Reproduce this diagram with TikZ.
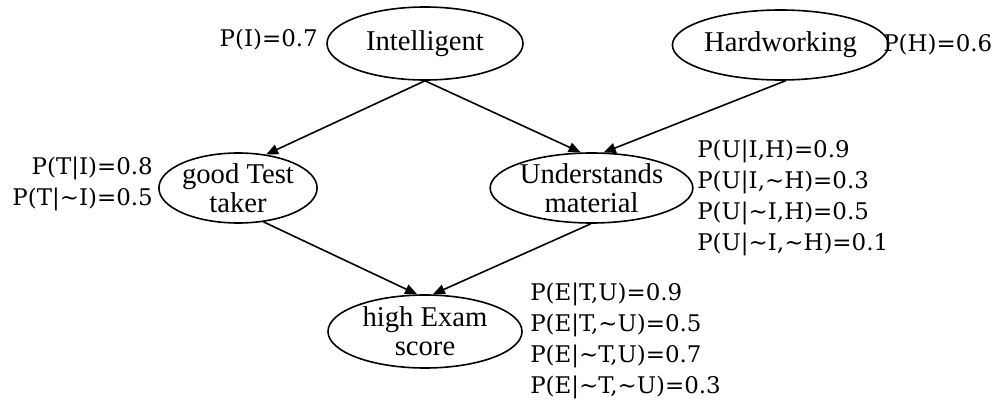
\documentclass[tikz,border=0pt]{standalone}
\usepackage{fontspec}
\setmainfont{Liberation Serif}
\newfontfamily\cptfont{DejaVu Serif}
\usetikzlibrary{shapes.geometric,arrows.meta}
\tikzset{
  bn/.style={draw, ellipse, line width=1.2pt, inner sep=0pt, align=center,
    font=\fontsize{21.5}{21.75}\selectfont},
  cpt/.style={inner sep=0pt, font=\cptfont\fontsize{17.2}{23.25}\selectfont},
  arr/.style={line width=1.2pt, -{Triangle[length=9pt,width=7.5pt]}}
}
\begin{document}
\begin{tikzpicture}[x=0.75pt,y=-0.75pt]
\useasboundingbox (0,0) rectangle (1002,406);
\node[bn, minimum width=147pt, minimum height=54.75pt] (int) at (425,43.5) {Intelligent};
\node[bn, minimum width=141.75pt, minimum height=52.5pt] (hard) at (780.5,45) {Hardworking};
\node[bn, minimum width=117pt, minimum height=52.5pt] (gt) at (238,188) {good Test\\taker};
\node[bn, minimum width=144.75pt, minimum height=52.5pt] (und) at (591.5,188) {Understands\\material};
\node[bn, minimum width=145.5pt, minimum height=54.75pt] (he) at (425,331.5) {high Exam\\score};
\node[cpt, anchor=east] (pI) at (318,40) {P(I)=0.7};
\node[cpt, anchor=west] (pH) at (883,45) {P(H)=0.6};
\node[cpt, anchor=east, align=right] (pT) at (153,184) {P(T|I)=0.8\\P(T|\textasciitilde I)=0.5};
\node[cpt, anchor=west, align=left] (pU) at (697,197.5) {P(U|I,H)=0.9\\P(U|I,\textasciitilde H)=0.3\\P(U|\textasciitilde I,H)=0.5\\P(U|\textasciitilde I,\textasciitilde H)=0.1};
\node[cpt, anchor=west, align=left] (pE) at (530,341) {P(E|T,U)=0.9\\P(E|T,\textasciitilde U)=0.5\\P(E|\textasciitilde T,U)=0.7\\P(E|\textasciitilde T,\textasciitilde U)=0.3};
\draw[arr] (int.south) -- (gt.50);
\draw[arr] (int.south) -- (und.107);
\draw[arr] (hard.-82) -- (und.71);
\draw[arr] (gt.-53) -- (he.102);
\draw[arr] (und.-91) -- (he.78);
\end{tikzpicture}
\end{document}
